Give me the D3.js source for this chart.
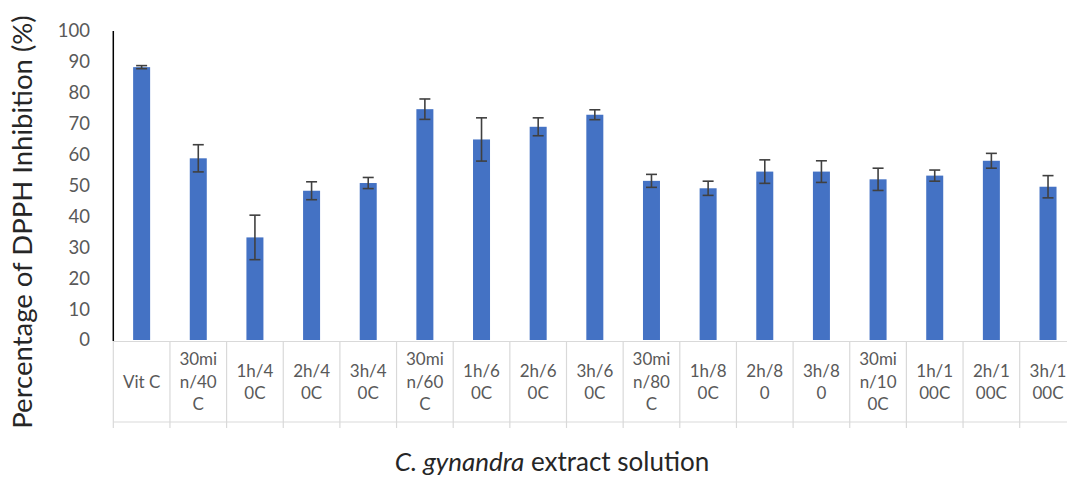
<!DOCTYPE html>
<html>
<head>
<meta charset="utf-8">
<script src="https://cdn.jsdelivr.net/npm/d3@7"></script>
<style>
html,body{margin:0;padding:0;background:#fff;}
svg{display:block;font-family:Lato,"Open Sans",sans-serif;}
</style>
</head>
<body>
<svg id="chart" width="1067" height="477"></svg>
<script>
const categories = [
  ["Vit C"],
  ["30mi","n/40","C"],
  ["1h/4","0C"],
  ["2h/4","0C"],
  ["3h/4","0C"],
  ["30mi","n/60","C"],
  ["1h/6","0C"],
  ["2h/6","0C"],
  ["3h/6","0C"],
  ["30mi","n/80","C"],
  ["1h/8","0C"],
  ["2h/8","0"],
  ["3h/8","0"],
  ["30mi","n/10","0C"],
  ["1h/1","00C"],
  ["2h/1","00C"],
  ["3h/1","00C"]
];
const values = [88.3, 58.8, 33.2, 48.3, 50.8, 74.7, 64.9, 69.0, 72.9, 51.5, 49.1, 54.5, 54.5, 52.0, 53.2, 58.0, 49.6];
const errors = [0.5, 4.4, 7.2, 2.9, 1.8, 3.3, 7.0, 2.9, 1.6, 2.1, 2.3, 3.8, 3.5, 3.6, 1.8, 2.4, 3.6];
const yTicks = [0,10,20,30,40,50,60,70,80,90,100];

const svg = d3.select("#chart");
const x0 = 113.3, bandW = 56.65;
const x = d3.scaleBand()
  .domain(d3.range(categories.length))
  .range([x0, x0 + bandW * categories.length])
  .paddingInner(0).paddingOuter(0);
const y = d3.scaleLinear().domain([0,100]).range([340, 31]);

// table grid under the axis
const gridColor = "#d9d9d9";
const g = svg.append("g");
g.append("line").attr("x1", x0).attr("x2", 1067).attr("y1", 341.5).attr("y2", 341.5)
  .attr("stroke", gridColor).attr("stroke-width", 1.2);
g.append("line").attr("x1", x0).attr("x2", 1067).attr("y1", 422).attr("y2", 422)
  .attr("stroke", gridColor).attr("stroke-width", 1.2);
const bounds = d3.range(categories.length + 1).map(i => x0 + i * bandW);
g.selectAll("line.v").data(bounds).enter().append("line").attr("class","v")
  .attr("x1", d => d).attr("x2", d => d).attr("y1", 341).attr("y2", 428)
  .attr("stroke", gridColor).attr("stroke-width", 1.2);

// category labels
const lineH = 22.5;
categories.forEach((lines, i) => {
  const cx = x(i) + x.bandwidth() / 2;
  const start = 382 - (lines.length - 1) * lineH / 2;
  const t = svg.append("text")
    .attr("text-anchor", "middle")
    .attr("font-size", 17)
    .attr("fill", "#595959");
  lines.forEach((s, k) => {
    t.append("tspan").attr("x", cx).attr("y", start + k * lineH).attr("dy", "0.35em").text(s);
  });
});

// y ticks
svg.selectAll("text.yt").data(yTicks).enter().append("text").attr("class","yt")
  .attr("x", 90).attr("y", d => y(d)).attr("dy", "0.35em")
  .attr("text-anchor", "end").attr("font-size", 18.5).attr("fill", "#595959")
  .text(d => d);

// bars
const barW = 17;
svg.selectAll("rect.bar").data(values).enter().append("rect").attr("class","bar")
  .attr("x", (d,i) => x(i) + x.bandwidth()/2 - barW/2)
  .attr("width", barW)
  .attr("y", d => y(d))
  .attr("height", d => y(0) - y(d))
  .attr("fill", "#4472c4");

// error bars
const eg = svg.append("g").attr("stroke", "#404040").attr("stroke-width", 1.6);
values.forEach((v, i) => {
  const cx = x(i) + x.bandwidth()/2;
  const e = errors[i];
  eg.append("line").attr("x1", cx).attr("x2", cx).attr("y1", y(v+e)).attr("y2", y(v-e));
  eg.append("line").attr("x1", cx-5.5).attr("x2", cx+5.5).attr("y1", y(v+e)).attr("y2", y(v+e));
  eg.append("line").attr("x1", cx-5.5).attr("x2", cx+5.5).attr("y1", y(v-e)).attr("y2", y(v-e));
});

// y axis line
svg.append("line").attr("x1", x0).attr("x2", x0).attr("y1", y(100)).attr("y2", y(0)+1)
  .attr("stroke", "#000").attr("stroke-width", 1.5);

// axis titles
svg.append("text")
  .attr("transform", "translate(32,222) rotate(-90)")
  .attr("text-anchor", "middle").attr("font-size", 27.5).attr("fill", "#262626")
  .text("Percentage of DPPH Inhibition (%)");

const xt = svg.append("text").attr("x", 552).attr("y", 471)
  .attr("text-anchor", "middle").attr("font-size", 26).attr("fill", "#262626");
xt.append("tspan").attr("font-style", "italic").text("C. gynandra");
xt.append("tspan").text(" extract solution");
</script>
</body>
</html>
